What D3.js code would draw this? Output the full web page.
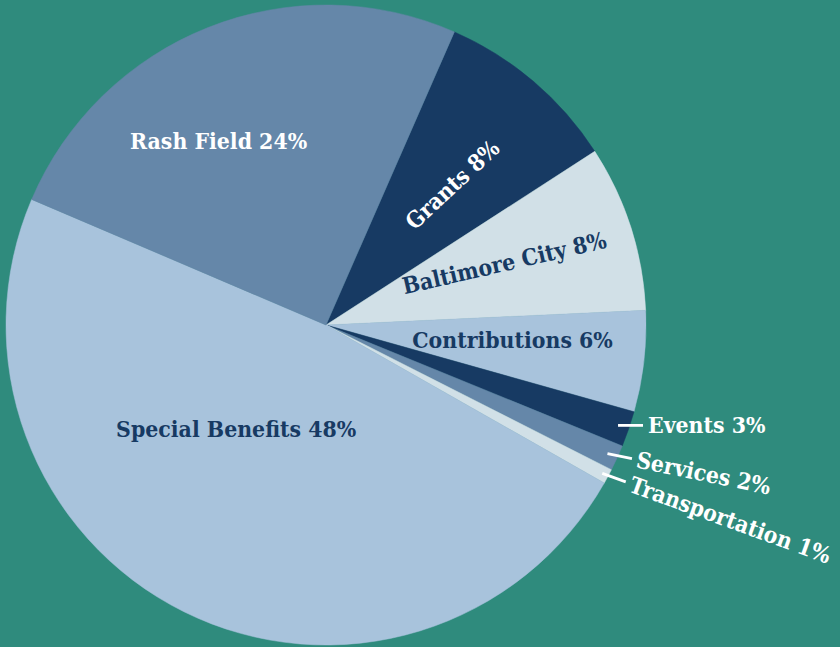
<!DOCTYPE html>
<html>
<head>
<meta charset="utf-8">
<script src="https://cdn.jsdelivr.net/npm/d3@7"></script>
<style>
  html, body { margin: 0; padding: 0; background: #2f8b7d; }
  svg { display: block; }
  text { font-family: "DejaVu Serif Condensed", "DejaVu Serif", serif; font-weight: bold; }
</style>
</head>
<body>
<svg id="chart" width="840" height="647"></svg>
<script>
// ---- data ----
const categories = ["Grants", "Baltimore City", "Contributions", "Events", "Services", "Transportation", "Special Benefits", "Rash Field"];
const values = [9.3, 8.4, 5.1, 1.8, 1.3, 0.75, 48.2, 25.15];
const percentLabels = ["8%", "8%", "6%", "3%", "2%", "1%", "48%", "24%"];

// ---- style / layout ----
const sliceColors = ["#173a63", "#d1e0e7", "#a8c3dc", "#173a63", "#6587a9", "#d1e0e7", "#a8c3dc", "#6587a9"];
const labelColors = ["#ffffff", "#173a63", "#173a63", "#ffffff", "#ffffff", "#ffffff", "#173a63", "#ffffff"];
// inner labels: radius (fraction of R), angular offset from slice middle (deg), rotation (deg)
// outer labels: leader starting radius fraction, rotation of leader/text
const labelLayout = [
  { kind: "inner", rf: 0.59, off: 1.6, rot: -43 },
  { kind: "inner", rf: 0.59, off: -1.4, rot: -13 },
  { kind: "inner", rf: 0.585, off: -1.8, rot: 0 },
  { kind: "outer", rf: 0.965, rot: 0 },
  { kind: "outer", rf: 0.967, rot: 11.5 },
  { kind: "outer", rf: 0.98, rot: 20 },
  { kind: "inner", rf: 0.43, off: 14.4, rot: 0 },
  { kind: "inner", rf: 0.665, off: -8.7, rot: 0 }
];

const W = 840, H = 647;
const cx = 326, cy = 325, R = 320;
const startDeg = 23.65;

const svg = d3.select("#chart");
svg.append("rect").attr("width", W).attr("height", H).attr("fill", "#2f8b7d");

const g = svg.append("g").attr("transform", `translate(${cx},${cy})`);

const pie = d3.pie().sort(null).value(d => d.value)
  .startAngle(startDeg * Math.PI / 180)
  .endAngle(startDeg * Math.PI / 180 + 2 * Math.PI);

const data = categories.map((c, i) => ({ name: c, value: values[i], pct: percentLabels[i], i }));
const arcs = pie(data);
const arc = d3.arc().innerRadius(0).outerRadius(R);

g.selectAll("path.slice").data(arcs).join("path")
  .attr("class", "slice")
  .attr("d", arc)
  .attr("fill", d => sliceColors[d.data.i])
  .attr("stroke", d => sliceColors[d.data.i])
  .attr("stroke-width", 0.5);

const polar = (ang, r) => [Math.sin(ang) * r, -Math.cos(ang) * r];
const fontSize = 22.8;

arcs.forEach(a => {
  const L = labelLayout[a.data.i];
  const mid = (a.startAngle + a.endAngle) / 2;
  const txt = `${a.data.name} ${a.data.pct}`;
  if (L.kind === "inner") {
    const [x, y] = polar(mid + L.off * Math.PI / 180, R * L.rf);
    g.append("text")
      .attr("transform", `translate(${x},${y}) rotate(${L.rot})`)
      .attr("text-anchor", "middle")
      .attr("dy", "0.35em")
      .attr("font-size", fontSize)
      .attr("fill", labelColors[a.data.i])
      .text(txt);
  } else {
    const [x0, y0] = polar(mid, R * L.rf);
    const rr = L.rot * Math.PI / 180;
    const len = 25, gap = 5;
    const x1 = x0 + Math.cos(rr) * len, y1 = y0 + Math.sin(rr) * len;
    g.append("line")
      .attr("x1", x0).attr("y1", y0).attr("x2", x1).attr("y2", y1)
      .attr("stroke", "#ffffff").attr("stroke-width", 2.8);
    const xt = x1 + Math.cos(rr) * gap, yt = y1 + Math.sin(rr) * gap;
    g.append("text")
      .attr("transform", `translate(${xt},${yt}) rotate(${L.rot})`)
      .attr("text-anchor", "start")
      .attr("dy", "0.35em")
      .attr("font-size", fontSize)
      .attr("fill", labelColors[a.data.i])
      .text(txt);
  }
});
</script>
</body>
</html>
